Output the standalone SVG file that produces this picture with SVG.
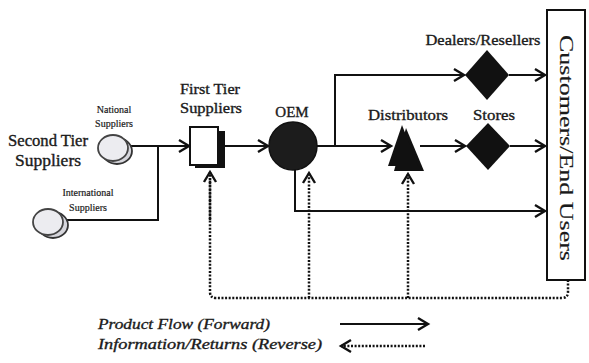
<svg xmlns="http://www.w3.org/2000/svg" width="589" height="363" viewBox="0 0 589 363">
<style>
text{font-family:"Liberation Serif","DejaVu Serif",serif;fill:#1a1a1a;stroke:#1a1a1a;stroke-width:0.35}
.lbl{font-size:15px;text-anchor:middle}
.sm{font-size:10px;text-anchor:middle;stroke-width:0.2}
.leg{font-size:15px;font-style:italic}
.ln{fill:none;stroke:#111;stroke-width:2}
.dot{fill:none;stroke:#111;stroke-width:2.5;stroke-dasharray:2 1.6}
.fa{marker-end:url(#chev)}
.ra{marker-end:url(#chevd)}
.disc{fill:#ececf0;stroke:#444;stroke-width:1.8}
.discb{fill:#d6d6dc;stroke:#333;stroke-width:1.8}
</style>
<defs>
<marker id="chev" markerUnits="userSpaceOnUse" markerWidth="14" markerHeight="16" refX="11" refY="7" orient="auto" viewBox="0 0 14 14">
<path d="M1,1 L11,7 L1,13" fill="none" stroke="#111" stroke-width="2.4"/>
</marker>
<marker id="chevd" markerUnits="userSpaceOnUse" markerWidth="14" markerHeight="16" refX="11" refY="7" orient="auto" viewBox="0 0 14 14">
<path d="M1,1 L11,7 L1,13" fill="none" stroke="#111" stroke-width="2.4"/>
</marker>
</defs>
<rect width="589" height="363" fill="#fff" stroke="none"/>

<g id="connectors">
<path class="ln fa" d="M128,146 H189"/>
<path class="ln" d="M63,220 H158 V146"/>
<path class="ln fa" d="M225,146 H268"/>
<path class="ln fa" d="M317,146 H391"/>
<path class="ln fa" d="M335,146 V75 H464"/>
<path class="ln fa" d="M509,75 H545"/>
<path class="ln fa" d="M420,146 H465"/>
<path class="ln fa" d="M510,146 H545"/>
<path class="ln fa" d="M295,168 V211 H545"/>
<path class="dot" d="M568,280 V292 Q568,298 562,298 H216 Q210,298 210,292 V178"/>
<path class="dot ra" d="M210,220 V172"/>
<path class="dot ra" d="M309,298 V173"/>
<path class="dot ra" d="M408,298 V174"/>
</g>

<g id="second-tier">
<text class="lbl" x="48" y="146" style="font-size:16px" textLength="80" lengthAdjust="spacingAndGlyphs">Second Tier</text>
<text class="lbl" x="48" y="166" style="font-size:16px" textLength="66" lengthAdjust="spacingAndGlyphs">Suppliers</text>
</g>

<g id="national-suppliers">
<ellipse class="discb" cx="117" cy="151" rx="15" ry="13"/>
<ellipse class="disc" cx="113" cy="148" rx="15" ry="13"/>
<text class="sm" x="114" y="113">National</text>
<text class="sm" x="114" y="127">Suppliers</text>
</g>

<g id="international-suppliers">
<ellipse class="discb" cx="53" cy="225" rx="15" ry="13"/>
<ellipse class="disc" cx="48" cy="222" rx="15" ry="13"/>
<text class="sm" x="88" y="196">International</text>
<text class="sm" x="88" y="211">Suppliers</text>
</g>

<g id="first-tier-suppliers">
<rect x="195" y="131" width="30" height="37" fill="#111"/>
<rect x="190" y="127" width="28" height="38" fill="#fff" stroke="#111" stroke-width="2"/>
<text class="lbl" x="210" y="94" textLength="60" lengthAdjust="spacingAndGlyphs">First Tier</text>
<text class="lbl" x="211" y="113" textLength="62" lengthAdjust="spacingAndGlyphs">Suppliers</text>
</g>

<g id="oem">
<circle cx="293" cy="146" r="24" fill="#1c1c1c" stroke="#111" stroke-width="1.5"/>
<text class="lbl" x="292" y="117">OEM</text>
</g>

<g id="distributors">
<polygon points="406,128 394,171 424,171" fill="#111"/>
<polygon points="402,125 388,166 418,166" fill="#111"/>
<text class="lbl" x="408" y="120" textLength="80" lengthAdjust="spacingAndGlyphs">Distributors</text>
</g>

<g id="dealers">
<polygon points="487,50 509,75 487,100 465,75" fill="#111"/>
<text class="lbl" x="483" y="45" textLength="115" lengthAdjust="spacingAndGlyphs">Dealers/Resellers</text>
</g>

<g id="stores">
<polygon points="488,123 510,146 488,170 466,146" fill="#111"/>
<text class="lbl" x="494" y="120" textLength="42" lengthAdjust="spacingAndGlyphs">Stores</text>
</g>

<g id="customers">
<rect x="547" y="10" width="38" height="270" fill="#fff" stroke="#111" stroke-width="2"/>
<text transform="translate(566,148) rotate(90)" text-anchor="middle" dominant-baseline="central" style="font-size:18px;stroke-width:0.15" textLength="226" lengthAdjust="spacingAndGlyphs">Customers/End Users</text>
</g>

<g id="legend">
<text class="leg" x="98" y="329" textLength="172" lengthAdjust="spacingAndGlyphs">Product Flow (Forward)</text>
<text class="leg" x="98" y="349" textLength="224" lengthAdjust="spacingAndGlyphs">Information/Returns (Reverse)</text>
<path class="ln fa" d="M340,324 H428"/>
<path class="dot ra" d="M425,346 H341"/>
</g>
</svg>
